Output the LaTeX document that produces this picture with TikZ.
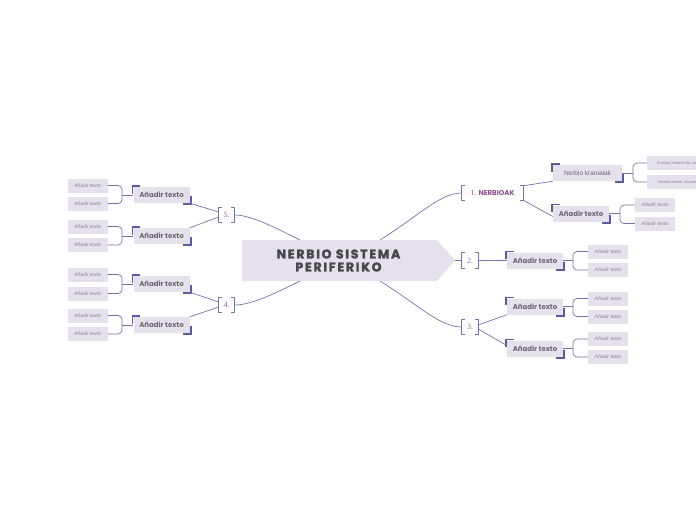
\documentclass[tikz,border=0pt]{standalone}
\usepackage{fontspec}
\setmainfont{Liberation Sans}
\newfontfamily\popp{Poppins}
\newfontfamily\poppsp{Poppins}[LetterSpace=14,FakeBold=2.2]
\newfontfamily\numf{Liberation Serif}
\definecolor{boxc}{HTML}{E6E0EC}
\definecolor{linec}{HTML}{7672AE}
\definecolor{markc}{HTML}{5A5A9E}
\definecolor{txtc}{HTML}{6A6A6A}
\definecolor{leaftc}{HTML}{858585}
\definecolor{numc}{HTML}{9A5AA6}
\definecolor{nerbc}{HTML}{8E4A95}
\definecolor{titc}{HTML}{484848}
\tikzset{
  conn/.style={draw=linec, line width=0.7pt},
  brk/.style={draw=linec, line width=0.8pt},
  cmark/.style={draw=markc, line width=1.6pt},
  midbox/.style={fill=boxc, inner sep=0pt, minimum width=56pt, minimum height=16pt, text=txtc,
     font=\popp\bfseries\fontsize{7}{8}\selectfont},
  leafbox/.style={fill=boxc, inner sep=0pt, minimum width=40pt, minimum height=14pt, text=leaftc,
     font=\itshape\fontsize{5}{6}\selectfont},
  numlab/.style={inner sep=0pt, minimum height=14pt, text=numc, font=\numf\fontsize{8}{9}\selectfont},
}
\newcommand\cmarks[1]{%
  \draw[cmark] ([shift={(-1,7)}]#1.north west) -- ([shift={(-1,-1)}]#1.north west) -- ([shift={(7,-1)}]#1.north west);
  \draw[cmark] ([shift={(1,-7)}]#1.south east) -- ([shift={(1,1)}]#1.south east) -- ([shift={(-7,1)}]#1.south east);}
\newcommand\brackets[1]{%
  \draw[brk] ([xshift=3pt]#1.north west) -- (#1.north west) -- (#1.south west) -- ([xshift=3pt]#1.south west);
  \draw[brk] ([xshift=-3pt]#1.north east) -- (#1.north east) -- (#1.south east) -- ([xshift=-3pt]#1.south east);}
\newcommand\rbrc[4]{% parent, child1, child2, x
  \draw[conn] (#1.east) -- (#4,0 |- #1.east);
  \draw[conn, rounded corners=4pt] (#2.west) -| (#4,0 |- #1.east) |- (#3.west);}
\newcommand\lbrc[4]{% parent, child1, child2, x (left side)
  \draw[conn] (#1.west) -- (#4,0 |- #1.west);
  \draw[conn, rounded corners=4pt] (#2.east) -| (#4,0 |- #1.west) |- (#3.east);}
\begin{document}
\begin{tikzpicture}[x=1pt,y=-1pt]
\useasboundingbox (0,0) rectangle (696,520);
% central
\fill[boxc] (242,240) -- (437,240) -- (455,260.5) -- (437,281) -- (242,281) -- cycle;
\node[inner sep=0pt, minimum width=195pt, minimum height=41pt, align=center, text=titc,
  font=\poppsp\bfseries\fontsize{12.5}{13}\selectfont] (ctr) at (338.5,260.5) {NERBIO SISTEMA\\PERIFERIKO};
\coordinate (tip) at (455,260.5);
\coordinate (tr) at (380,240);
\coordinate (br) at (380,281);
\coordinate (tl) at (300,240);
\coordinate (bl) at (300,281);
% numbered labels
\node[numlab, minimum width=61pt] (c1) at (492.5,193) {1.\ {\popp\bfseries\fontsize{7}{8}\selectfont\color{nerbc}NERBIOAK}\hspace{3pt}};
\node[numlab, minimum width=16pt, minimum height=16pt] (n2) at (470,260.5) {2.\hspace{4pt}};
\node[numlab, minimum width=16pt] (n3) at (470,327) {3.\hspace{4pt}};
\node[numlab, minimum width=15pt] (n5) at (226.5,215) {5.\hspace{4pt}};
\node[numlab, minimum width=15pt] (n4) at (226.5,305) {4.\hspace{4pt}};
\foreach \n in {c1,n2,n3,n4,n5} {\brackets{\n}}
% central connectors
\draw[conn] (tr) .. controls (420,215) and (440,193) .. (c1.west);
\draw[conn] (tip) -- (n2.west);
\draw[conn] (br) .. controls (420,306) and (440,327) .. (n3.west);
\draw[conn] (tl) .. controls (270,225) and (250,215) .. (n5.east);
\draw[conn] (bl) .. controls (270,296) and (250,305) .. (n4.east);
% level 2 right
\node[midbox, minimum width=69pt, font=\fontsize{6.5}{8}\selectfont] (nk) at (587.5,173) {Nerbio kranialak};
\node[midbox] (a1) at (581,213.5) {Añadir texto};
\node[midbox] (a2) at (535,260.5) {Añadir texto};
\node[midbox] (a3) at (535,306.5) {Añadir texto};
\node[midbox] (a4) at (535,348.5) {Añadir texto};
% level 2 left
\node[midbox] (a5) at (161.5,195) {Añadir texto};
\node[midbox] (a6) at (161.5,236) {Añadir texto};
\node[midbox] (a7) at (161.5,284) {Añadir texto};
\node[midbox] (a8) at (161.5,325) {Añadir texto};
\foreach \n in {nk,a1,a2,a3,a4,a5,a6,a7,a8} {\cmarks{\n}}
% connectors level 1 -> 2
\draw[conn] (c1.north east) -- (nk.south west);
\draw[conn] (c1.south east) -- ([shift={(0,3)}]a1.west);
\draw[conn] (n2.east) -- (a2.west);
\draw[conn] ([shift={(0,-2)}]n3.east) -- (a3.south west);
\draw[conn] ([shift={(0,2)}]n3.east) -- ([shift={(0,-3)}]a4.west);
\draw[conn] ([shift={(0,-3)}]n5.west) -- (a5.south east);
\draw[conn] ([shift={(0,2)}]n5.west) -- (a6.north east);
\draw[conn] ([shift={(0,-3)}]n4.west) -- (a7.south east);
\draw[conn] ([shift={(0,2)}]n4.west) -- (a8.north east);
% leaves right
\node[leafbox, minimum width=70pt, anchor=west, font=\fontsize{4}{5}\selectfont] (k1) at (647,163) {\hspace{4pt}Funtzio motore eta sentsoriala\hfill};
\node[leafbox, minimum width=70pt, anchor=west, font=\fontsize{4}{5}\selectfont] (k2) at (647,182) {\hspace{4pt}Ukimenarekin, ikusmenarekin\hfill};
\node[leafbox] (l1) at (655,205) {Añadir texto};
\node[leafbox] (l2) at (655,223.5) {Añadir texto};
\node[leafbox] (l3) at (608,251.5) {Añadir texto};
\node[leafbox] (l4) at (608,270) {Añadir texto};
\node[leafbox] (l5) at (608,298.5) {Añadir texto};
\node[leafbox] (l6) at (608,316.5) {Añadir texto};
\node[leafbox] (l7) at (608,339) {Añadir texto};
\node[leafbox] (l8) at (608,357) {Añadir texto};
% leaves left
\node[leafbox] (m1) at (87.5,185.5) {Añadir texto};
\node[leafbox] (m2) at (87.5,203.5) {Añadir texto};
\node[leafbox] (m3) at (87.5,226.5) {Añadir texto};
\node[leafbox] (m4) at (87.5,245) {Añadir texto};
\node[leafbox] (m5) at (87.5,274.5) {Añadir texto};
\node[leafbox] (m6) at (87.5,293.5) {Añadir texto};
\node[leafbox] (m7) at (87.5,315.5) {Añadir texto};
\node[leafbox] (m8) at (87.5,334) {Añadir texto};
% braces
\rbrc{nk}{k1}{k2}{633}
\rbrc{a1}{l1}{l2}{620}
\rbrc{a2}{l3}{l4}{573}
\rbrc{a3}{l5}{l6}{573}
\rbrc{a4}{l7}{l8}{573}
\lbrc{a5}{m1}{m2}{122}
\lbrc{a6}{m3}{m4}{122}
\lbrc{a7}{m5}{m6}{122}
\lbrc{a8}{m7}{m8}{122}
\end{tikzpicture}
\end{document}
